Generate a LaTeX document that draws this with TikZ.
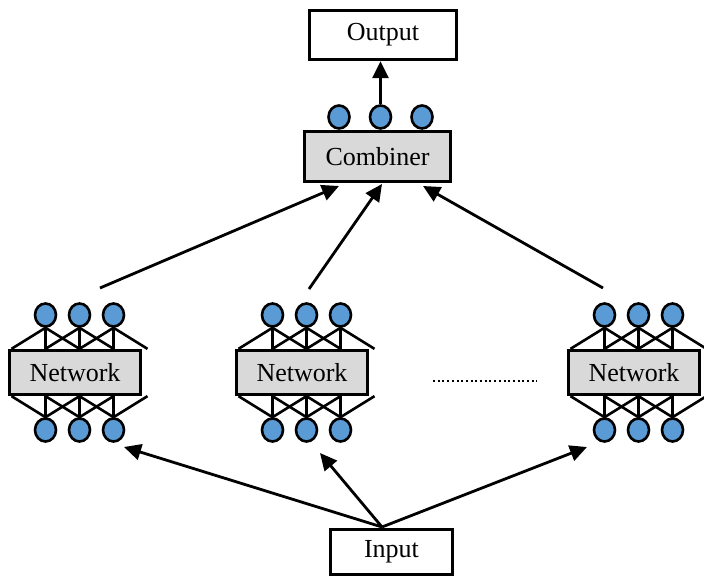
\documentclass[tikz,border=0pt]{standalone}
\usepackage{fontspec}
\setmainfont{Liberation Serif}
\usetikzlibrary{shapes.geometric,arrows.meta,calc}
\definecolor{boxgray}{HTML}{D9D9D9}
\definecolor{neuronblue}{HTML}{5B9BD5}
\begin{document}
\begin{tikzpicture}[x=1pt,y=-1pt,
  box/.style={draw,line width=2.8pt,inner sep=0pt,font=\fontsize{26}{30}\selectfont},
  gbox/.style={box,fill=boxgray},
  neuron/.style={ellipse,draw,line width=2.6pt,fill=neuronblue,minimum width=21pt,minimum height=23pt,inner sep=0pt},
  link/.style={line width=2.6pt},
  arr/.style={line width=2.8pt,-{Triangle[length=17pt,width=16pt]}},
  dotline/.style={line width=2pt,dash pattern=on 2pt off 2.7pt}
]
\useasboundingbox (0,0) rectangle (704,577);

% networks
\foreach \i/\bx in {1/75,2/302,3/634} {
  \node[gbox,minimum width=131pt,minimum height=44.5pt] (net\i) at (\bx,372.5) {Network};
  \foreach \m/\dx in {0/-68,1/-34,2/0,3/34,4/68} {
    \coordinate (nt\i\m) at ($(net\i.north)+(\dx+4.5,0)$);
    \coordinate (nb\i\m) at ($(net\i.south)+(\dx+4.5,0)$);
  }
  \foreach \k/\dx in {1/-34,2/0,3/34} {
    \node[neuron] (top\i\k) at (\bx+4.5+\dx,315) {};
    \node[neuron] (bot\i\k) at (\bx+4.5+\dx,430) {};
  }
  \foreach \k/\a/\b/\c in {1/0/1/2,2/1/2/3,3/2/3/4} {
    \draw[link] (nt\i\a) -- (top\i\k.south) -- (nt\i\c);
    \draw[link] (top\i\k.south) -- (nt\i\b);
    \draw[link] (nb\i\a) -- (bot\i\k.north) -- (nb\i\c);
    \draw[link] (bot\i\k.north) -- (nb\i\b);
  }
}

% combiner and output
\node[gbox,minimum width=146.5pt,minimum height=50.5pt] (comb) at (377.5,156.5) {Combiner};
\node[neuron] (cc1) at (339,117) {};
\node[neuron] (cc2) at (380.5,117) {};
\node[neuron] (cc3) at (422,117) {};
\node[box,minimum width=147.5pt,minimum height=49.5pt] (out) at (383,35) {Output};
\draw[arr] (cc2.north) -- (cc2.north |- out.south);

% input
\node[box,minimum width=122.5pt,minimum height=45.5pt] (in) at (391.5,552) {Input};

% network -> combiner
\coordinate (s1) at (100,288);
\coordinate (s2) at (309,289);
\coordinate (s3) at (603,288);
\coordinate (e1) at (339,186);
\coordinate (e2) at (382,184);
\coordinate (e3) at (423,186);
\draw[arr] (s1) -- (e1);
\draw[arr] (s2) -- (e2);
\draw[arr] (s3) -- (e3);

% input -> networks
\coordinate (o) at (382,527);
\coordinate (i1) at (124,447);
\coordinate (i2) at (320,453);
\coordinate (i3) at (587,447);
\draw[arr] (o) -- (i1);
\draw[arr] (o) -- (i2);
\draw[arr] (o) -- (i3);

% dots
\coordinate (d1) at (433,381);
\coordinate (d2) at (537,381);
\draw[dotline] (d1) -- (d2);
\end{tikzpicture}
\end{document}
